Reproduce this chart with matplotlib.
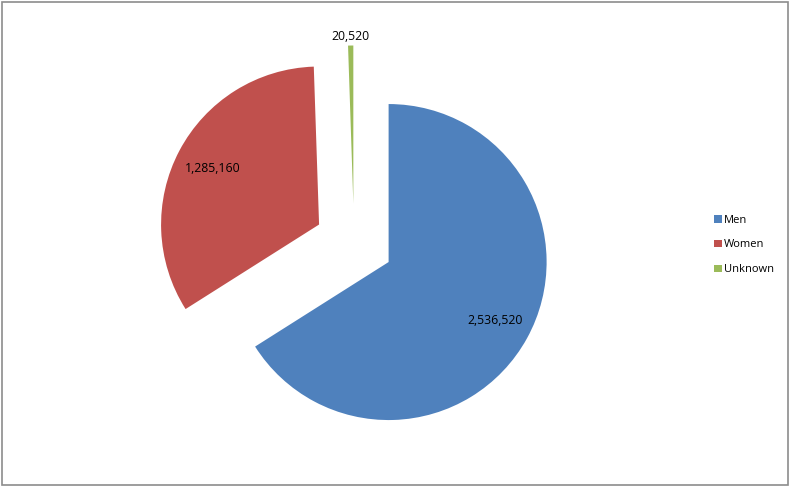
import numpy as np
import matplotlib
matplotlib.use("Agg")
from matplotlib import pyplot as plt
from matplotlib.patches import Rectangle

# chart data
categories = ["Men", "Women", "Unknown"]
values = [2536520, 1285160, 20520]
colors = ["#4F81BD", "#C0504D", "#9BBB59"]
label_dist = [0.77, 0.76, 1.06]   # inside / inside / outside end

W, H = 790, 487
R_PX = 158.0          # pie radius in pixels
CX, CY = 354.0, 244.0  # pie centre in pixels (from bottom-left)

fig = plt.figure(figsize=(W / 100, H / 100), dpi=100)
ax = fig.add_axes([0, 0, 1, 1])

wedges, _ = ax.pie(values, colors=colors, startangle=90, counterclock=False,
                   explode=[0.25] * len(values), radius=1.0,
                   wedgeprops=dict(linewidth=0))

ax.set_xlim(-CX / R_PX, (W - CX) / R_PX)
ax.set_ylim(-CY / R_PX, (H - CY) / R_PX)
ax.set_aspect("auto")
ax.axis("off")

# data labels
for w, v, d in zip(wedges, values, label_dist):
    tm = np.deg2rad((w.theta1 + w.theta2) / 2)
    x = w.center[0] + d * w.r * np.cos(tm)
    y = w.center[1] + d * w.r * np.sin(tm)
    ax.text(x, y, f"{v:,}", ha="center", va="center", fontsize=8.8,
            family="Open Sans", color="black")

fig.legend(wedges, categories, loc="center left",
           bbox_to_anchor=(704 / W, 1 - 245 / H), frameon=False,
           prop=dict(family="Open Sans", size=8),
           handlelength=0.7, handleheight=0.7, handletextpad=0.2,
           labelspacing=1.25)

# outer chart border
fig.patches.append(Rectangle((2 / W, 2 / H), 1 - 4 / W, 1 - 4 / H,
                             transform=fig.transFigure, fill=False,
                             edgecolor="#8c8c8c", linewidth=1.2))

fig.savefig("out.png", dpi=100)
